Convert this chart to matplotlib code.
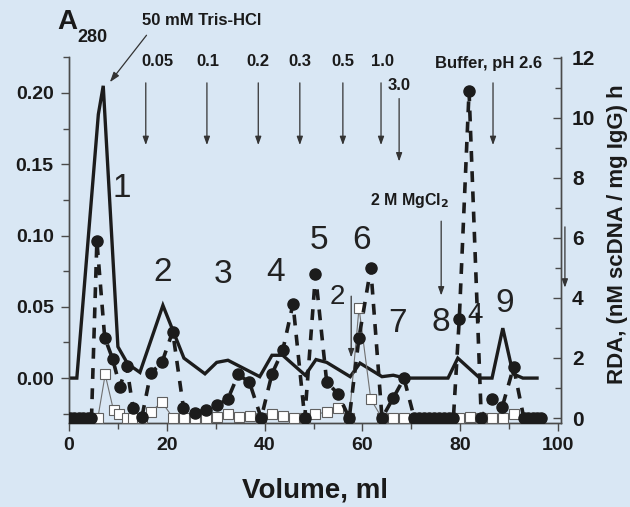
import matplotlib
matplotlib.use('Agg')
import matplotlib.pyplot as plt
from matplotlib.ticker import MultipleLocator

plt.rcParams['font.family'] = ['Liberation Sans', 'DejaVu Sans']

# ---- data ----
# A280 absorbance (left axis, solid line)
a280_volume = [0, 1.6, 6.0, 7.0, 10.0, 12.0, 14.5, 19.2, 23.5, 27.8, 30.2, 32.5,
               39.0, 41.5, 43.7, 48.3, 50.5, 52.7, 57.5, 59.5, 64.0, 66.3, 68.7,
               77.5, 79.5, 84.0, 86.5, 88.7, 90.8, 92.8, 95.7]
a280_abs = [0.0, 0.0, 0.185, 0.205, 0.022, 0.010, 0.004, 0.051, 0.014, 0.003, 0.011, 0.0125,
            0.001, 0.016, 0.016, 0.002, 0.013, 0.011, 0.001, 0.0105, 0.001, 0.002, 0.0,
            0.0, 0.014, 0.0, 0.0, 0.035, 0.003, 0.0, 0.0]

# RDA (right axis, filled circles, dashed line)
rda_volume = [0.2, 1.1, 2.0, 2.9, 3.8, 4.6, 5.7, 7.3, 8.9, 10.4, 11.8, 13.1, 14.9,
              16.7, 19.0, 21.2, 23.4, 25.8, 28.0, 30.2, 32.5, 34.6, 36.9, 39.3,
              41.5, 43.7, 45.8, 48.2, 50.4, 52.7, 55.0, 57.3, 59.3, 61.7, 64.0,
              66.3, 68.5, 70.6, 71.6, 72.6, 73.6, 74.6, 75.6, 76.6, 77.6, 78.6,
              79.8, 81.8, 84.3, 86.4, 88.6, 90.9, 93.0, 93.9, 94.8, 95.7, 96.6]
rda_value = [0, 0, 0, 0, 0, 0, 5.9, 2.68, 1.98, 1.05, 1.72, 0.33, 0.03,
             1.49, 1.85, 2.88, 0.34, 0.18, 0.27, 0.42, 0.64, 1.45, 1.19, 0.0,
             1.47, 2.25, 3.8, 0.0, 4.78, 1.19, 0.81, 0.0, 2.68, 4.99, 0.0,
             0.67, 1.32, 0, 0, 0, 0, 0, 0, 0, 0, 0,
             3.3, 10.88, 0.0, 0.62, 0.38, 1.70, 0, 0, 0, 0, 0]

# second activity series (right axis, open squares, thin line)
sq_volume = [5.9, 7.4, 9.1, 10.3, 11.8, 13.1, 14.9, 16.7, 19.0, 21.3, 23.5, 25.8,
             28.0, 30.3, 32.5, 34.8, 37.0, 39.3, 41.5, 43.8, 46.0, 48.2, 50.4,
             52.7, 55.0, 57.3, 59.3, 61.7, 64.0, 66.3, 68.5, 79.8, 82.0, 84.3,
             86.5, 88.7, 91.0]
sq_value = [0, 1.45, 0.26, 0.14, 0, 0, 0, 0.2, 0.53, 0, 0, 0,
            0, 0.05, 0.13, 0.05, 0.08, 0, 0.13, 0.08, 0, 0, 0.13,
            0.2, 0.33, 0, 3.67, 0.63, 0, 0, 0, 0, 0.05, 0,
            0, 0, 0.13]

# salt step annotations
step_labels = ['0.05', '0.1', '0.2', '0.3', '0.5', '1.0']
step_volume = [15.7, 28.2, 38.7, 47.2, 56.0, 63.8]
step_label_x = [18.0, 28.4, 38.7, 47.2, 56.0, 64.2]

# peak numbers
peak_labels = ['1', '2', '3', '4', '5', '6', '2', '7', '8', '4', '9']
peak_x = [10.8, 19.2, 31.5, 42.3, 51.1, 59.9, 54.8, 67.1, 76.1, 83.0, 89.0]
peak_y = [0.133, 0.074, 0.073, 0.074, 0.0965, 0.0965, 0.0566, 0.0385, 0.039, 0.044, 0.052]
peak_size = [24, 24, 24, 24, 24, 24, 20, 24, 24, 20, 24]

bg = '#d9e7f4'
ink = '#1c1c1c'
spine_c = '#4a4a4a'

fig = plt.figure(figsize=(6.3, 5.07), dpi=100, facecolor=bg)
ax = fig.add_axes([69/630, 1-423/507, (561-69)/630, (423-57)/507])
ax.set_facecolor('none')
ax2 = ax.twinx()
ax2.set_facecolor('none')

# A280 line
ax.plot(a280_volume, a280_abs, color=ink, lw=2.4, zorder=3, solid_joinstyle='miter')

# squares
ax2.plot(sq_volume, sq_value, color='#707070', lw=0.8, zorder=2)
ax2.plot(sq_volume, sq_value, ls='none', marker='s', ms=7, mfc='white',
         mec='#606060', mew=0.8, zorder=3)
# circles with dashed line
ax2.plot(rda_volume, rda_value, color=ink, lw=2.6, dashes=(3, 2.6), zorder=4)
ax2.plot(rda_volume, rda_value, ls='none', marker='o', ms=8, mfc=ink,
         mec=ink, zorder=5)

ax.set_xlim(0, 100.6)
ax.set_ylim(-0.0315, 0.2252)
ax2.set_ylim(-0.165, 12.02)

ax.xaxis.set_major_locator(MultipleLocator(20))
ax.xaxis.set_minor_locator(MultipleLocator(10))
ax.yaxis.set_major_locator(MultipleLocator(0.05))
ax.yaxis.set_minor_locator(MultipleLocator(0.025))
ax2.yaxis.set_major_locator(MultipleLocator(2))
ax2.yaxis.set_minor_locator(MultipleLocator(1))

for a in (ax, ax2):
    for s in a.spines.values():
        s.set_color(spine_c)
        s.set_linewidth(1.0)
ax.spines['top'].set_visible(False)
ax2.spines['top'].set_visible(False)

ax.tick_params(axis='x', which='major', direction='out', length=6, width=1,
               color=spine_c, labelsize=14, pad=4)
ax.tick_params(axis='x', which='minor', direction='out', length=4, width=1, color=spine_c)
ax.tick_params(axis='y', which='major', direction='out', length=6, width=1,
               color=spine_c, labelsize=14, pad=5)
ax.tick_params(axis='y', which='minor', direction='out', length=4, width=1, color=spine_c)
ax2.tick_params(axis='y', which='major', direction='in', length=6, width=1,
                color=spine_c, labelsize=15, pad=8)
ax2.tick_params(axis='y', which='minor', direction='in', length=4, width=1, color=spine_c)

ax.set_yticks([0.0, 0.05, 0.10, 0.15, 0.20])
ax.set_yticklabels(['0.00', '0.05', '0.10', '0.15', '0.20'])
ax2.set_yticks([0, 2, 4, 6, 8, 10, 12])
for lab in ax.get_xticklabels() + ax.get_yticklabels() + ax2.get_yticklabels():
    lab.set_fontweight('bold')
    lab.set_color('#1a1a1a')

# step arrows
arrow_kw = dict(arrowstyle='-|>,head_length=0.5,head_width=0.18', color='#333333', lw=0.9)
for lab, xv, lx in zip(step_labels, step_volume, step_label_x):
    ax.annotate('', xy=(xv, 0.1615), xytext=(xv, 0.209), arrowprops=arrow_kw,
                annotation_clip=False)
    ax.text(lx, 0.2217, lab, ha='center', va='center', fontsize=12,
            fontweight='bold', color='#1a1a1a')
ax.annotate('', xy=(67.5, 0.150), xytext=(67.5, 0.198), arrowprops=arrow_kw,
            annotation_clip=False)
ax.text(67.5, 0.2055, '3.0', ha='center', va='center', fontsize=12,
        fontweight='bold', color='#1a1a1a')
ax.annotate('', xy=(86.7, 0.1615), xytext=(86.7, 0.209), arrowprops=arrow_kw,
            annotation_clip=False)
ax.text(85.7, 0.2203, 'Buffer, pH 2.6', ha='center', va='center', fontsize=12,
        fontweight='bold', color='#1a1a1a')

# Tris arrow
ax.annotate('', xy=(8.0, 0.206), xytext=(16.2, 0.242),
            arrowprops=dict(arrowstyle='-|>,head_length=0.6,head_width=0.2',
                            color='#333333', lw=0.9), annotation_clip=False)
ax.text(27.2, 0.251, '50 mM Tris-HCl', ha='center', va='center', fontsize=12,
        fontweight='bold', color='#1a1a1a', clip_on=False)

# MgCl2 arrow
ax.text(69.7, 0.1245, r'2 M MgCl$_\mathbf{2}$', ha='center', va='center', fontsize=11.5,
        fontweight='bold', color='#1a1a1a')
ax.annotate('', xy=(76.1, 0.056), xytext=(76.1, 0.112), arrowprops=arrow_kw,
            annotation_clip=False)
# small arrow near peak 2 (squares)
ax.annotate('', xy=(57.7, 0.0126), xytext=(57.7, 0.0594), arrowprops=arrow_kw,
            annotation_clip=False)
# arrow right of the right axis
ax.annotate('', xy=(101.4, 0.0615), xytext=(101.4, 0.108), arrowprops=arrow_kw,
            annotation_clip=False)

# peak numbers
for lab, px, py, fs in zip(peak_labels, peak_x, peak_y, peak_size):
    ax.text(px, py, lab, ha='center', va='center', fontsize=fs, color='#222222', zorder=6)

# axis titles
fig.text(67/630, 1-22/507, 'A', ha='center', va='center', fontsize=20,
         fontweight='bold', color='#1a1a1a')
fig.text(92/630, 1-38/507, '280', ha='center', va='center', fontsize=13,
         fontweight='bold', color='#1a1a1a')
fig.text(315/630, 1-490/507, 'Volume, ml', ha='center', va='center', fontsize=20,
         fontweight='bold', color='#1a1a1a')
fig.text(618/630, 1-234/507, 'RDA, (nM scDNA / mg IgG) h', ha='center', va='center',
         rotation=90, fontsize=16, fontweight='bold', color='#1a1a1a')

fig.savefig('out.png', dpi=100, facecolor=bg)
